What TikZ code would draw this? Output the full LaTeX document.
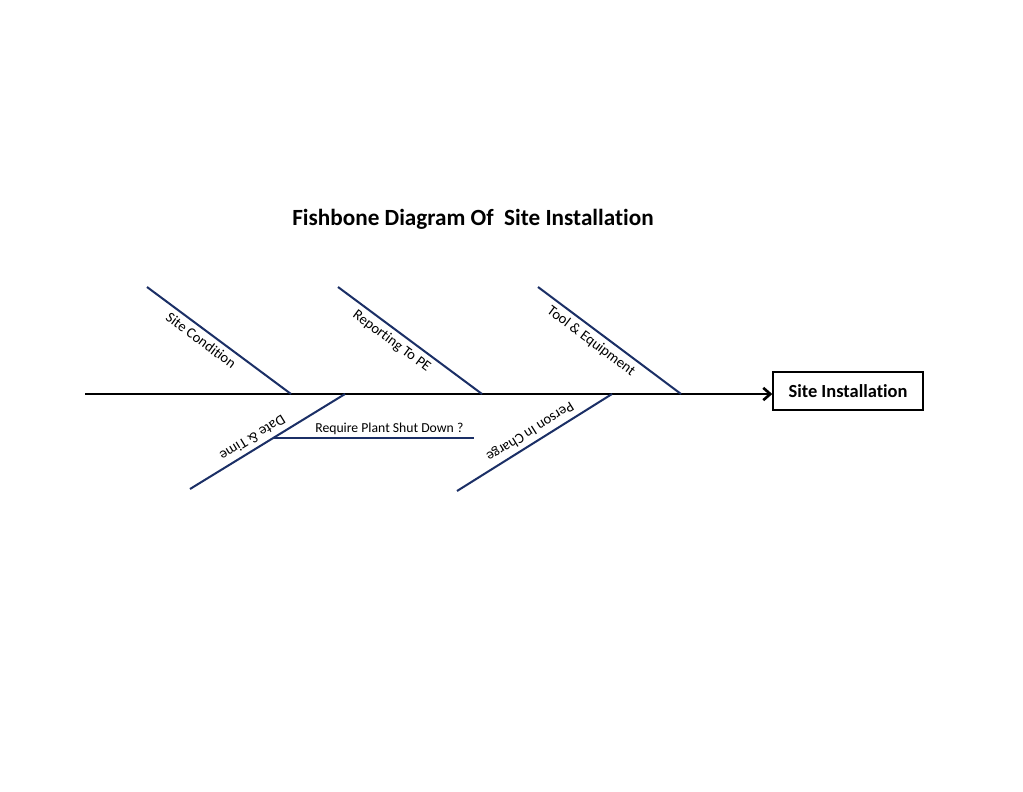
\documentclass[tikz,border=0pt]{standalone}
\usepackage{fontspec}
\setmainfont{Carlito}[Ligatures=NoCommon]
\usepackage{tikz}
\usetikzlibrary{arrows.meta,positioning,calc}
\definecolor{bonenavy}{HTML}{1B2F66}
\tikzset{
  spine/.style={black, line width=1.5pt},
  bone/.style={bonenavy, line width=1.15pt},
  bonelbl/.style={text=black, font=\fontsize{8.3}{10}\selectfont, inner sep=2.5pt},
  effbox/.style={draw=black, line width=0.8pt, minimum width=3cm,
                 minimum height=0.76cm, inner sep=0pt,
                 font=\bfseries\fontsize{10.5}{12}\selectfont},
}

\begin{document}
\begin{tikzpicture}[x=0.02cm, y=-0.02cm]
  \useasboundingbox (0,0) rectangle (1023,791);
  \node[font=\bfseries\fontsize{13.2}{15}\selectfont] (title) at (473,219)
    {Fishbone Diagram Of\ \ Site Installation};
  \node[effbox] (effect) at (848,391) {Site Installation};
  \coordinate (tail) at (85,394);
  \draw[spine, -{Straight Barb[length=4pt, width=7pt]}] (tail) -- (tail -| effect.west);
  \foreach \xa/\xb/\lbl [count=\i] in
      {147/291/Site Condition, 338/482/Reporting To PE, 538/681/Tool \& Equipment} {
    \coordinate (tt\i) at (\xa,287);
    \coordinate (jt\i) at (\xb,394);
    \draw[bone] (tt\i) -- node[bonelbl, sloped, below, pos=0.42] {\lbl} (jt\i);
  }
  \foreach \xa/\xb/\yb/\lbl/\p [count=\i] in
      {345/190/489/Date \& Time/0.56, 612/457/491/Person In Charge/0.49} {
    \coordinate (jb\i) at (\xa,394);
    \coordinate (tb\i) at (\xb,\yb);
    \draw[bone] (jb\i) -- node[bonelbl, sloped, allow upside down, below, pos=\p] {\lbl} (tb\i);
  }
  \coordinate (rq0) at ($(jb1)!0.466!(tb1)$);
  \coordinate (rq1) at ($(rq0)+(201,0)$);
  \draw[bone] (rq0) -- node[bonelbl, font=\fontsize{7.8}{9}\selectfont, inner sep=1.5pt,
    above, pos=0.58] {Require Plant Shut Down ?} (rq1);
\end{tikzpicture}
\end{document}
